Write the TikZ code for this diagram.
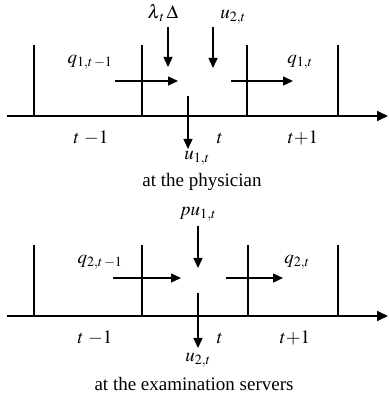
\documentclass[tikz,border=0pt]{standalone}
\usepackage{mathptmx}
\usepackage[no-math]{fontspec}
\setmainfont{Liberation Serif}
\usetikzlibrary{arrows.meta, positioning}

\begin{document}
\begin{tikzpicture}[x=1pt, y=1pt, font=\fontsize{19}{22}\selectfont]
    \tikzstyle{axis} = [line width=1.8pt, -{Triangle[length=11pt,width=10pt]}]
    \tikzstyle{tick} = [line width=1.6pt]
    \tikzstyle{flow} = [line width=1.4pt, -{Triangle[length=10pt,width=9pt]}]
    \tikzstyle{lbl} = [inner sep=0pt]

    \useasboundingbox (0,0) rectangle (388,401);

    % at the physician
    \coordinate (a1s) at (7,285);
    \coordinate (a1e) at (388,285);
    \draw [axis] (a1s) -- (a1e);
    \foreach \x in {34,142,247,338}
        \draw [tick] (\x,285) -- (\x,356);

    \coordinate (q1in) at (115,320);
    \coordinate (q1mid) at (178,320);
    \coordinate (q1out) at (231,320);
    \coordinate (q1end) at (293,320);
    \draw [flow] (q1in) -- (q1mid);
    \draw [flow] (q1out) -- (q1end);

    \node [lbl, anchor=base] (lam) at (163,382) {$\lambda_{\,t}\,\Delta$};
    \node [lbl, anchor=base] (u2top) at (233,382) {$u_{2,t}$};
    \coordinate (lamend) at (168,334);
    \coordinate (u2end) at (213,333);
    \draw [flow] (168,374) -- (lamend);
    \draw [flow] (213,374) -- (u2end);

    \coordinate (u1beg) at (188,305);
    \node [lbl] (u1) at (197,243) {$u_{1,t}$};
    \draw [flow] (u1beg) -- (188,252);

    \node [lbl] (q1prev) at (90,339) {$q_{1,t\,-1}$};
    \node [lbl] (q1now) at (300,339) {$q_{1,t}$};
    \node [lbl] (tprev) at (91,263) {$t\;{-}1$};
    \node [lbl] (tnow) at (220,263) {$t$};
    \node [lbl] (tnext) at (303,263) {$t{+}1$};
    \node [lbl] (cap1) at (202,219) {at the physician};

    % at the examination servers
    \coordinate (a2s) at (7,85);
    \coordinate (a2e) at (388,85);
    \draw [axis] (a2s) -- (a2e);
    \foreach \x in {34,142,248,338}
        \draw [tick] (\x,85) -- (\x,156);

    \coordinate (q2in) at (113,123);
    \coordinate (q2mid) at (181,123);
    \coordinate (q2out) at (226,123);
    \coordinate (q2end) at (283,123);
    \draw [flow] (q2in) -- (q2mid);
    \draw [flow] (q2out) -- (q2end);

    \node [lbl] (pu) at (198,187) {$pu_{1,t}$};
    \draw [flow] (198,175) -- (198,133);

    \node [lbl] (u2) at (198,41) {$u_{2,t}$};
    \draw [flow] (198,108) -- (198,53);

    \node [lbl] (q2prev) at (100,139) {$q_{2,t\,-1}$};
    \node [lbl] (q2now) at (297,139) {$q_{2,t}$};
    \node [lbl] (sprev) at (95,63) {$t\;{-}1$};
    \node [lbl] (snow) at (220,63) {$t$};
    \node [lbl] (snext) at (295,63) {$t{+}1$};
    \node [lbl] (cap2) at (194,17) {at the examination servers};
\end{tikzpicture}
\end{document}
